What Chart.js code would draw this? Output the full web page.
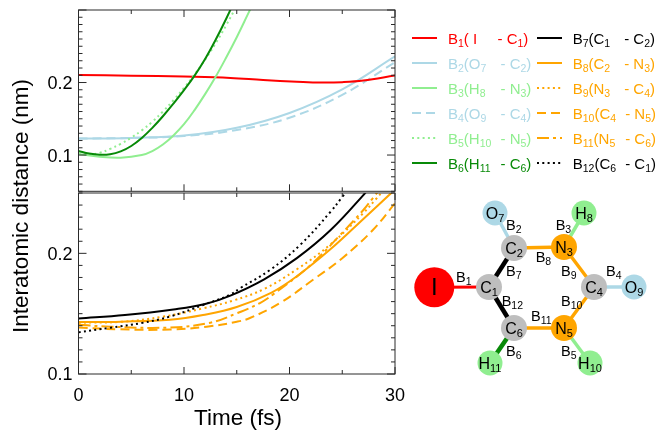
<!DOCTYPE html>
<html><head><meta charset="utf-8">
<style>html,body{margin:0;padding:0;background:#fff;overflow:hidden}canvas{position:absolute;top:0}</style>
<script src="https://cdn.jsdelivr.net/npm/chart.js@4/dist/chart.umd.min.js"></script>
</head><body>
<canvas id="main" width="659" height="435" style="left:0"></canvas>
<canvas id="side" width="254" height="435" style="left:405px"></canvas>
<script>
const FONT='"Liberation Sans", Arial, sans-serif';
const RED='#ff0000',BLUE='#add8e6',LGREEN='#90ee90',DGREEN='#088a08',ORANGE='#ffa500',BLACK='#000000';
const xTickLabels=[0,10,20,30], yTickLabels=[0.1,0.2];
// top panel
const b1T=[0,5,10,14.4,17.5,20.7,23,25,27,30];
const b1V=[.2105,.2095,.2082,.2064,.2035,.2012,.2,.2005,.2027,.2096];
const b2T=[0,5,10,15,20,25,30];
const b2V=[.1227,.1236,.1268,.1375,.158,.1905,.236];
const b3T=[0,2,4,6,7,8,9,10,11,12,13,14,15,16,17];
const b3V=[.1014,.0977,.0964,.1,.1055,.1145,.127,.1425,.162,.184,.208,.2345,.2625,.2925,.323];
const b4T=[0,5,10,15,20,25,30];
const b4V=[.1227,.1236,.1262,.1345,.1515,.183,.228];
const b5T=[0,1,2,3,4,5,6,7,8,9,10,11,12,13,14,15];
const b5V=[.102,.101,.103,.1085,.1155,.124,.134,.146,.16,.1755,.1925,.211,.2315,.254,.279,.306];
const b6T=[0,1,2,3,4,5,6,7,8,9,10,11,12,13,14,15];
const b6V=[.1055,.102,.1003,.101,.105,.1125,.1235,.1375,.1535,.171,.1895,.2095,.2325,.259,.288,.319];
// bottom panel
const b7T=[0,4.4,9,12,14.4,17.6,20.7,23.9,27,28];
const b7V=[.146,.1489,.1535,.158,.165,.1785,.196,.2193,.2483,.259];
const b8T=[0,4,8.67,11.8,15,18.3,20.7,23.9,27,29.7,30];
const b8V=[.143,.1434,.145,.1489,.1555,.1675,.181,.2035,.2285,.2505,.253];
const b9T=[0,4,8,11.8,14.7,17.6,20.7,23.9,27,28.2,29.5];
const b9V=[.1425,.1432,.1475,.1544,.161,.1705,.1868,.2075,.2334,.245,.258];
const b10T=[0,4,8.67,12.15,15,16.25,19.1,22.2,25,27.9,30];
const b10V=[.1385,.137,.1368,.1392,.1433,.1464,.1588,.1779,.196,.2193,.2415];
const b11T=[0,3,8.67,12.5,15,17.2,18.45,22,24.8,27,27.9,29];
const b11V=[.1408,.1392,.1385,.1425,.1503,.1588,.166,.1903,.2152,.2359,.2458,.258];
const b12T=[0,3,6,8.7,11.8,14.4,15.3,18.15,21,23.9,24.9,26];
const b12V=[.1345,.1383,.1423,.1477,.1572,.1658,.171,.1862,.2069,.2345,.2456,.258];

const DOT=[2,3.3],DASH=[9,5],DASHDOT=[12,4,3,4];
const pts=(t,v)=>t.map((x,i)=>({x,y:v[i]}));
const ds=(t,v,color,dash,axis,w)=>({data:pts(t,v),borderColor:color,borderDash:dash||[],borderWidth:w||2,yAxisID:axis,
  pointRadius:0,tension:0.4,fill:false,parsing:false,showLine:true});

const panelFix={id:'panelFix',
 afterLayout(c){const a=c.scales.yTop,b=c.scales.yBot,L=c.scales.x.left;
  a.left=0;a.right=L;a.width=L;a.top=10;a.bottom=191.3;a.height=a.bottom-a.top;a.configure();
  b.left=0;b.right=L;b.width=L;b.top=193;b.bottom=374;b.height=b.bottom-b.top;b.configure();},
 beforeDatasetDraw(c,args){const m=args.meta,y=m.yScale,x=m.xScale,k=c.ctx;k.save();k.beginPath();k.rect(x.left,y.top,x.right-x.left,y.bottom-y.top);k.clip();},
 afterDatasetDraw(c){c.ctx.restore();},
 afterDraw(c){const k=c.ctx,X=c.scales.x;k.save();k.strokeStyle='#2a2a2a';k.lineWidth=1;
  for(const S of [c.scales.yTop,c.scales.yBot]){
   k.strokeRect(X.left,S.top,X.right-X.left,S.bottom-S.top);
   k.beginPath();
   for(let t=0;t<=30;t+=5){const L=t%10===0?7:4,p=X.getPixelForValue(t);
     k.moveTo(p,S.top);k.lineTo(p,S.top+L);k.moveTo(p,S.bottom);k.lineTo(p,S.bottom-L);}
   const lo=Math.ceil(S.min*100-1e-6),hi=Math.floor(S.max*100+1e-6);
   for(let i=lo;i<=hi;i++){const L=i%10===0?8:4,p=S.getPixelForValue(i/100);
     k.moveTo(X.left,p);k.lineTo(X.left+L,p);k.moveTo(X.right,p);k.lineTo(X.right-L,p);}
   k.stroke();
  }
  k.fillStyle='#000';k.font='22.5px '+FONT;k.textAlign='center';k.textBaseline='middle';
  k.fillText('Time (fs)',238,419);
  k.translate(22,206);k.rotate(-Math.PI/2);k.fillText('Interatomic distance (nm)',0,0);
  k.restore();}
};
const yAxis=(min,max)=>({type:'linear',position:'left',min,max,
  afterBuildTicks:s=>{s.ticks=yTickLabels.map(v=>({value:v}));},
  afterFit:s=>{s.width=39.25;},
  grid:{display:false,drawTicks:false},border:{display:false},
  ticks:{color:'#000',padding:6,labelOffset:1.5,font:{family:FONT,size:18},callback:v=>v.toFixed(1)}});
new Chart(document.getElementById('main'),{type:'scatter',
 data:{datasets:[
  ds(b6T,b6V,DGREEN,null,'yTop'),ds(b5T,b5V,LGREEN,DOT,'yTop'),ds(b3T,b3V,LGREEN,null,'yTop'),
  ds(b1T,b1V,RED,null,'yTop'),ds(b2T,b2V,BLUE,null,'yTop'),ds(b4T,b4V,BLUE,DASH,'yTop'),
  ds(b7T,b7V,BLACK,null,'yBot'),ds(b12T,b12V,BLACK,DOT,'yBot'),ds(b8T,b8V,ORANGE,null,'yBot'),
  ds(b9T,b9V,ORANGE,DOT,'yBot'),ds(b10T,b10V,ORANGE,DASH,'yBot'),ds(b11T,b11V,ORANGE,DASHDOT,'yBot')]},
 options:{responsive:false,devicePixelRatio:1,animation:false,
  layout:{autoPadding:false,padding:{left:0,top:10,right:264,bottom:0}},
  plugins:{legend:{display:false},tooltip:{enabled:false}},
  scales:{
   x:{type:'linear',min:0,max:30,position:'bottom',
     afterBuildTicks:s=>{s.ticks=xTickLabels.map(v=>({value:v}));},
     afterFit:s=>{s.height=61;},
     grid:{display:false,drawTicks:false},border:{display:false},
     ticks:{color:'#000',padding:11,maxRotation:0,font:{family:FONT,size:18}}},
   yTop:yAxis(0.05,0.3),
   yBot:yAxis(0.1,0.25)}},
 plugins:[panelFix]});

// legend + molecule
const legendRows=[
 ['1','( I','','C','1',RED,[],49.5],['2','(O','7','C','2',BLUE,[],52.5],['3','(H','8','N','3',LGREEN,[],52.5],
 ['4','(O','9','C','4',BLUE,DASH,52.5],['5','(H','10','N','5',LGREEN,DOT,52.5],['6','(H','11','C','6',DGREEN,[],52.5],
 ['7','(C','1','C','2',BLACK,[],51.5],['8','(C','2','N','3',ORANGE,[],51.5],['9','(N','3','C','4',ORANGE,DOT,51.5],
 ['10','(C','4','N','5',ORANGE,DASH,52.5],['11','(N','5','C','6',ORANGE,DASHDOT,52.5],['12','(C','6','C','1',BLACK,DOT,52.5]];
const legendYs=[38,63,88,113,138,163];
const atomNames=[['I',''],['C','1'],['C','2'],['N','3'],['C','4'],['N','5'],['C','6'],['O','7'],['H','8'],['O','9'],['H','10'],['H','11']];
const atomX=[434.3,489,514,564,594,564,514,495,584,634,590,490];
const atomY=[287.3,287,248,247,287,328,328,213,213,287,363,363];
const atomR=[20,13,13,13,13,13,13,12.5,12.5,12.5,12.5,12.5];
const atomC=[RED,'#bebebe','#bebebe',ORANGE,'#bebebe',ORANGE,'#bebebe',BLUE,LGREEN,BLUE,LGREEN,LGREEN];
const bonds=[[0,1,RED,3],[1,2,BLACK,4.5],[1,6,BLACK,4.5],[2,7,BLUE,3.5],[2,3,ORANGE,3.5],[3,8,LGREEN,3.5],[3,4,ORANGE,3.5],[4,9,BLUE,3.5],[4,5,ORANGE,3.5],[5,6,ORANGE,3.5],[5,10,LGREEN,3.5],[6,11,DGREEN,4.5]];
const bondLabels=[['1',456,281.7],['2',506,230],['3',555.7,230],['4',606,276],['5',561,355.7],['6',506,355.7],['7',506,276],['8',535.7,261.7],['9',561,276],['10',561,306],['11',531,320.7],['12',501.7,306]];

function rich(k,x,y,parts,size,sub,off){let px=x;
 parts.forEach((p,i)=>{ if(!p)return; const s=i%2===1;k.font=(s?sub:size)+'px '+FONT;k.fillText(p,px,y+(s?off:0));px+=k.measureText(p).width;});return px;}
const sidePlugin={id:'sidePlugin',afterDraw(c){const k=c.ctx,X=c.scales.x,Y=c.scales.y;k.save();k.textAlign='left';k.textBaseline='alphabetic';
 legendRows.forEach((r,i)=>{const col=i>=6?1:0,y=Y.getPixelForValue(legendYs[i%6]);
  const sx=X.getPixelForValue(col?537:412),ex=X.getPixelForValue(col?562:437),tx=X.getPixelForValue(col?572.7:448);
  k.strokeStyle=r[5];k.lineWidth=2;k.setLineDash(r[6]);k.beginPath();k.moveTo(sx,y);k.lineTo(ex,y);k.stroke();k.setLineDash([]);
  k.fillStyle=r[5];const base=y+5.5;
  rich(k,tx,base,['B',r[0],r[1],r[2]],15,10.5,3.5);
  rich(k,tx+r[7],base,['- '+r[3],r[4],')'],15,10.5,3.5);});
 k.fillStyle='#000';
 atomNames.forEach((a,i)=>{const size=i===0?24:16;k.font=size+'px '+FONT;let w=k.measureText(a[0]).width;k.font='11px '+FONT;w+=a[1]?k.measureText(a[1]).width:0;
  rich(k,X.getPixelForValue(atomX[i])-w/2,Y.getPixelForValue(atomY[i])+(i===0?8:5.5),[a[0],a[1]],size,11,3.5);});
 bondLabels.forEach(b=>rich(k,X.getPixelForValue(b[1]),Y.getPixelForValue(b[2]),['B',b[0]],14.5,10.5,3));
 k.restore();}};
new Chart(document.getElementById('side'),{type:'scatter',
 data:{datasets:[
  {data:atomX.map((x,i)=>({x,y:atomY[i]})),pointRadius:atomR,pointBackgroundColor:atomC,pointBorderWidth:0,showLine:false},
  ...bonds.map(b=>({data:[{x:atomX[b[0]],y:atomY[b[0]]},{x:atomX[b[1]],y:atomY[b[1]]}],borderColor:b[2],borderWidth:b[3],showLine:true,pointRadius:0}))]},
 options:{responsive:false,devicePixelRatio:1,animation:false,layout:{autoPadding:false,padding:0},
  plugins:{legend:{display:false},tooltip:{enabled:false}},
  scales:{x:{type:'linear',min:405,max:659,display:false},y:{type:'linear',min:0,max:435,reverse:true,display:false}}},
 plugins:[sidePlugin]});
</script></body></html>
